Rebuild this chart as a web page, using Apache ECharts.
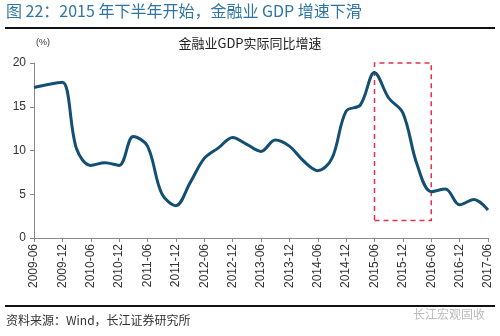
<!DOCTYPE html>
<html><head><meta charset="utf-8">
<script src="https://cdn.jsdelivr.net/npm/echarts@6/dist/echarts.min.js"></script>
<style>html,body{margin:0;padding:0;background:#fff}#c{width:500px;height:336px}</style>
</head><body><div id="c"></div>
<script>
const categories = ['2009-06','2009-09','2009-12','2010-03','2010-06','2010-09','2010-12','2011-03','2011-06','2011-09','2011-12','2012-03','2012-06','2012-09','2012-12','2013-03','2013-06','2013-09','2013-12','2014-03','2014-06','2014-09','2014-12','2015-03','2015-06','2015-09','2015-12','2016-03','2016-06','2016-09','2016-12','2017-03','2017-06'];
const growth = [17.2,17.55,17.8,10.2,8.3,8.6,8.3,11.6,10.5,5.1,3.7,6.3,9.1,10.3,11.5,10.7,9.9,11.2,10.5,8.8,7.7,9.1,14.5,15.2,18.9,16.0,14.3,8.4,5.3,5.6,3.8,4.4,3.2];
const yTicks = [0,5,10,15,20];
const highlight = {from:'2015-06', to:'2016-06', low:2, high:20.2};

const chart = echarts.init(document.getElementById('c'));
chart.setOption({
  animation:false,
  grid:{left:34,right:12,top:63,bottom:98},
  xAxis:{type:'category',data:categories,boundaryGap:false,
    axisLine:{lineStyle:{color:'#888',width:1}},
    axisTick:{show:true,interval:1,length:4,lineStyle:{color:'#888'}},
    axisLabel:{interval:1,rotate:90,fontSize:12,color:'#333',fontFamily:'Liberation Sans',margin:6}},
  yAxis:{type:'value',min:yTicks[0],max:yTicks[yTicks.length-1],interval:5,
    axisLine:{show:true,lineStyle:{color:'#888'}},
    axisTick:{show:true,length:4,inside:false,lineStyle:{color:'#888'}},
    splitLine:{show:false},
    axisLabel:{fontSize:12,color:'#333',fontFamily:'Liberation Sans',margin:8}},
  series:[{type:'line',data:growth,smooth:0.35,symbol:'none',
    lineStyle:{color:'#134f73',width:3},
    markArea:{silent:true,itemStyle:{color:'rgba(0,0,0,0)',borderColor:'#e0304a',borderWidth:1.5,borderType:[5,4]},
      data:[[{xAxis:highlight.from,yAxis:highlight.low},{xAxis:highlight.to,yAxis:highlight.high}]]}}],
  graphic:[
    {type:'text',left:6,top:3,style:{text:'图 22：2015 年下半年开始，金融业 GDP 增速下滑',fill:'#2f75a3',font:'16px "Noto Sans CJK SC", sans-serif'}},
    {type:'rect',shape:{x:5,y:27,width:490,height:2},style:{fill:'#111'}},
    {type:'text',x:250,y:37,style:{text:'金融业GDP实际同比增速',fill:'#222',font:'13px "Noto Sans CJK SC", sans-serif',align:'center'}},
    {type:'text',x:36,y:38,style:{text:'(%)',fill:'#333',font:'9px "Liberation Sans", sans-serif'}},
    {type:'rect',shape:{x:5,y:305,width:490,height:2},style:{fill:'#111'}},
    {type:'text',x:6,y:314,style:{text:'资料来源：Wind，长江证券研究所',fill:'#333',font:'12px "Noto Sans CJK SC", sans-serif'}},
    {type:'text',x:413,y:308,style:{text:'长江宏观固收',fill:'#bbb',font:'12px "Noto Sans CJK SC", sans-serif'}}
  ]
});
</script></body></html>
